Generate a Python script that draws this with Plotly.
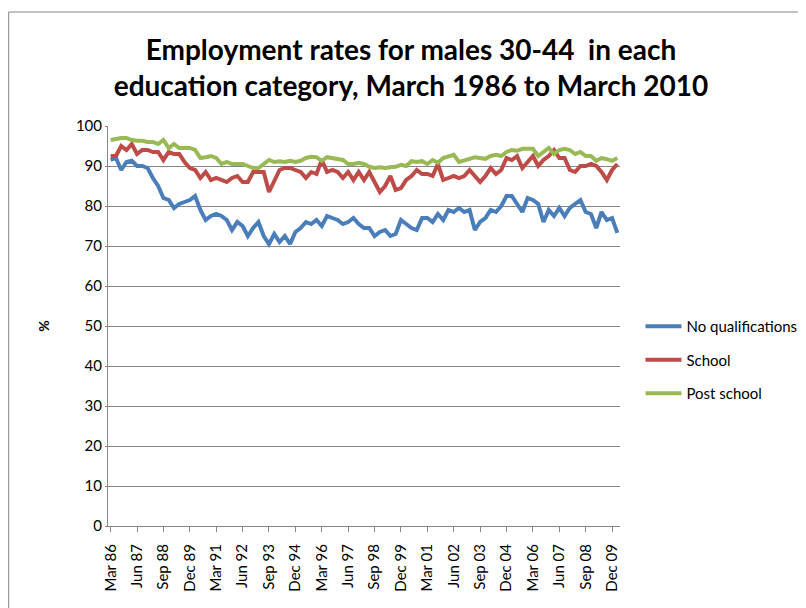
import plotly.graph_objects as go

months = ["Mar", "Jun", "Sep", "Dec"]
quarters = [f"{months[i % 4]} {(86 + i // 4) % 100:02d}" for i in range(97)]

tick_labels = ["Mar 86", "Jun 87", "Sep 88", "Dec 89", "Mar 91", "Jun 92", "Sep 93",
               "Dec 94", "Mar 96", "Jun 97", "Sep 98", "Dec 99", "Mar 01", "Jun 02",
               "Sep 03", "Dec 04", "Mar 06", "Jun 07", "Sep 08", "Dec 09"]

no_qualifications = [
    91.5, 92, 89, 91, 91.3, 90, 90, 89.5, 87, 85,
    82, 81.5, 79.5, 80.5, 81, 81.5, 82.5, 79, 76.5, 77.5,
    78, 77.5, 76.5, 74, 76, 75, 72.5, 74.5, 76, 72.5,
    70.5, 73, 71, 72.5, 70.5, 73.5, 74.5, 76, 75.5, 76.5,
    75, 77.5, 77, 76.5, 75.5, 76, 77, 75.5, 74.5, 74.5,
    72.5, 73.5, 74, 72.5, 73, 76.5, 75.5, 74.5, 74, 77,
    77, 76, 78, 76.5, 79, 78.5, 79.5, 78.5, 79, 74,
    76, 77, 79, 78.5, 80, 82.5, 82.5, 80.5, 78.5, 82,
    81.5, 80.5, 76, 79, 77.5, 79.5, 77.5, 79.5, 80.5, 81.5,
    78.5, 78, 74.5, 78.5, 76.5, 77, 73.3]

school = [
    92.5, 92.5, 95, 94, 95.5, 93, 94, 94, 93.5, 93.5,
    91.5, 93.5, 93, 93, 91, 89.5, 89, 87, 88.5, 86.5,
    87, 86.5, 86, 87, 87.5, 86, 86, 88.5, 88.5, 88.5,
    83.5, 86.5, 89, 89.5, 89.5, 89, 88.5, 87, 88.5, 88,
    91.5, 88.5, 89, 88.5, 87, 88.5, 86.5, 88.5, 86.5, 88.5,
    86, 83.5, 85, 87.5, 84, 84.5, 86.5, 87.5, 89, 88,
    88, 87.5, 90.5, 86.5, 87, 87.5, 87, 87.5, 89, 87.5,
    86, 87.5, 89.5, 88, 89, 92, 91.5, 92.5, 89.5, 91,
    92.5, 90, 91.5, 92.5, 94, 92, 92, 89, 88.5, 90,
    90, 90.5, 90, 88.5, 86.5, 89, 90.5]

post_school = [
    96.5, 96.8, 97, 97, 96.5, 96.3, 96.3, 96, 96, 95.5,
    96.5, 94.5, 95.5, 94.5, 94.5, 94.5, 94, 92, 92.2, 92.5,
    92, 90.5, 91, 90.5, 90.5, 90.5, 90, 89.5, 89.5, 90.5,
    91.5, 91, 91.2, 91, 91.3, 91, 91.3, 92, 92.3, 92.2,
    91.3, 92.2, 92, 91.8, 91.5, 90.5, 90.5, 90.8, 90.5, 89.8,
    89.5, 89.7, 89.5, 89.7, 89.8, 90.3, 90, 91.2, 91, 91.2,
    90.5, 91.5, 90.8, 92, 92.3, 92.8, 91, 91.3, 91.8, 92.2,
    92, 91.8, 92.5, 92.8, 92.5, 93.5, 94, 93.8, 94.3, 94.3,
    94.3, 92.5, 93.5, 94.5, 93, 94, 94.3, 94, 93, 93.5,
    92.5, 92.5, 91.3, 92, 91.7, 91.3, 92]

series = [
    ("No qualifications", no_qualifications, "#4A7EBB"),
    ("School", school, "#BE4B48"),
    ("Post school", post_school, "#98B954"),
]

font_family = "Lato, 'Open Sans', sans-serif"

fig = go.Figure()
for name, vals, color in series:
    fig.add_trace(go.Scatter(
        x=list(range(len(quarters))), y=vals, name=name, mode="lines",
        legendgroup=name,
        line=dict(color=color, width=4), customdata=quarters,
        hovertemplate="%{customdata}: %{y}<extra>" + name + "</extra>",
    ))

tick_idx = [quarters.index(t) for t in tick_labels]

fig.update_layout(
    width=806, height=608,
    margin=dict(l=100, r=186, t=118, b=90),
    paper_bgcolor="white", plot_bgcolor="white",
    font=dict(family=font_family, size=14, color="black"),
    title=dict(
        text="<b>Employment rates for males 30-44  in each<br>education category, March 1986 to March 2010</b>",
        x=0.5, xanchor="center", y=0.915, yanchor="middle",
        font=dict(size=28, family=font_family, color="black"),
    ),
    showlegend=True,
    legend=dict(
        x=1.04, xanchor="left", y=0.415, yanchor="middle",
        font=dict(size=15, family=font_family),
        tracegroupgap=11, itemwidth=36, bgcolor="rgba(0,0,0,0)",
    ),
    xaxis=dict(
        range=[-0.5, 96.5], tickmode="array", tickvals=tick_idx, ticktext=tick_labels,
        tickangle=-90, showgrid=False, showline=True, linecolor="#868686", linewidth=1,
        ticks="outside", ticklen=5, tickcolor="#868686", zeroline=False,
        ticklabelstandoff=6,
        tickfont=dict(size=15, family=font_family),
    ),
    yaxis=dict(
        range=[0, 100], dtick=10, showgrid=True, gridcolor="#868686", gridwidth=1,
        showline=True, linecolor="#868686", linewidth=1, ticks="outside", ticklen=2,
        tickcolor="#868686", zeroline=False,
        title=dict(text="<b>%</b>", font=dict(size=14), standoff=22),
        tickfont=dict(size=15, family=font_family),
    ),
    shapes=[dict(type="rect", xref="paper", yref="paper",
                 x0=-0.194, x1=1.4, y0=-0.3, y1=1.285,
                 line=dict(color="#868686", width=1), fillcolor="rgba(0,0,0,0)", layer="below")],
)

fig.write_html("out.html")
